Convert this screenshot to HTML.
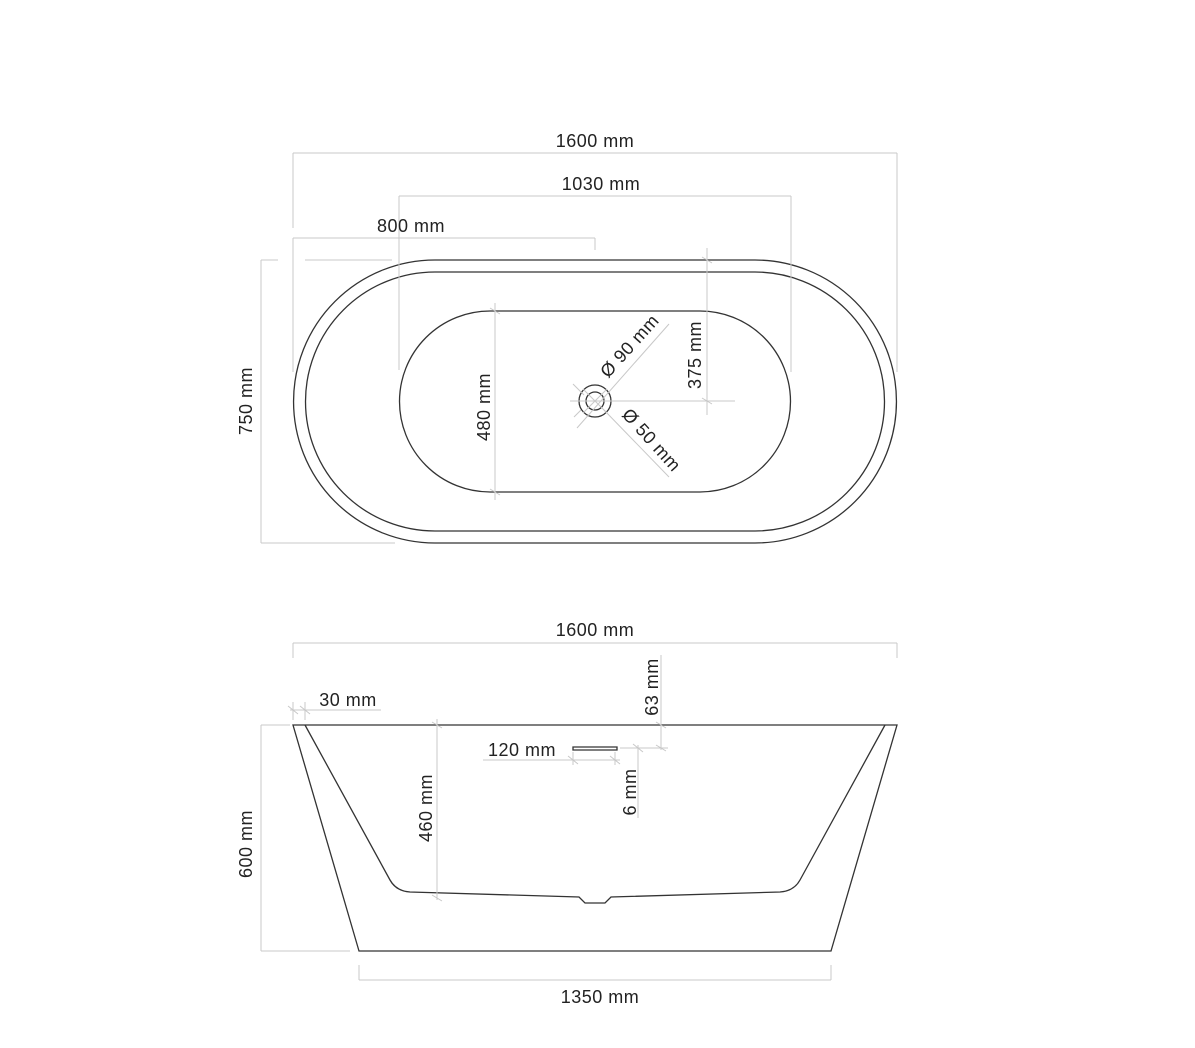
<!DOCTYPE html>
<html><head><meta charset="utf-8"><style>
html,body{margin:0;padding:0;background:#fff;}
svg{display:block;}
text{font-family:"Liberation Sans",sans-serif;font-size:18px;letter-spacing:0.5px;fill:#222;}
.d{stroke:#c8c8c8;stroke-width:1;fill:none;}
.o{stroke:#333;stroke-width:1.3;fill:none;}
</style></head><body>
<svg width="1195" height="1048" viewBox="0 0 1195 1048" xmlns="http://www.w3.org/2000/svg">
<path class="o" d="M435,260 H755 A141.5,141.5 0 0 1 755,543 H435 A141.5,141.5 0 0 1 435,260 Z"/>
<path class="o" d="M435,272 H755 A129.5,129.5 0 0 1 755,531 H435 A129.5,129.5 0 0 1 435,272 Z"/>
<path class="o" d="M490,311 H700 A90.5,90.5 0 0 1 700,492 H490 A90.5,90.5 0 0 1 490,311 Z"/>
<circle class="o" cx="595" cy="401" r="16"/>
<circle class="o" cx="595" cy="401" r="9"/>
<g class="d">
<path d="M293,153 H897 M293,153 V228 M897,153 V372"/>
<path d="M399,196 H791 M399,196 V370 M791,196 V372"/>
<path d="M293,238 H595 M293,238 V372 M595,238 V250"/>
<path d="M261,260 V543 M261,260 H278 M305,260 H392 M261,543 H395"/>
<path d="M495,303 V500 M490,308 L500,314 M490,489 L500,495"/>
<path d="M707,248 V415 M570,401 H735 M702,257 L712,263 M702,398 L712,404"/>
<path d="M583,389 L607,413 M583,413 L607,389"/>
<path d="M577,428 L669,324 M604,410 L669,477 M573,384 L584,395 M574,417 L581,410"/>
</g>
<text x="595" y="147" text-anchor="middle">1600 mm</text>
<text x="601" y="190" text-anchor="middle">1030 mm</text>
<text x="411" y="232" text-anchor="middle">800 mm</text>
<text transform="translate(252,401) rotate(-90)" text-anchor="middle">750 mm</text>
<text transform="translate(490,407) rotate(-90)" text-anchor="middle">480 mm</text>
<text transform="translate(701,355) rotate(-90)" text-anchor="middle">375 mm</text>
<text transform="translate(634,350) rotate(-48)" text-anchor="middle">Ø 90 mm</text>
<text transform="translate(647,444) rotate(48)" text-anchor="middle">Ø 50 mm</text>
<path class="o" d="M293,725 H897 L831,951 H359 Z"/>
<path class="o" d="M305,725 L390,880 Q396,891 410,892 L579,897 L585,903 H605 L611,897 L780,892 Q794,891 800,880 L885,725"/>
<path class="o" d="M573,747 H617 V750 H573 Z"/>
<g class="d">
<path d="M293,643 H897 M293,643 V658 M897,643 V658"/>
<path d="M261,725 V951 M261,725 H290 M261,951 H350"/>
<path d="M359,980 H831 M359,980 V965 M831,980 V965"/>
<path d="M437,719 V900 M432,722 L442,728 M432,895 L442,901"/>
<path d="M661,655 V750 M620,748 H668 M656,722 L666,728 M656,745 L666,751"/>
<path d="M483,760 H620 M573,752 V765 M615,752 V765 M568,756 L578,764 M610,756 L620,764"/>
<path d="M638,745 V818 M633,744 L643,752"/>
<path d="M290,710 H381 M293,702 V720 M305,702 V720 M288,706 L298,714 M300,706 L310,714"/>
</g>
<text x="595" y="636" text-anchor="middle">1600 mm</text>
<text x="348" y="706" text-anchor="middle">30 mm</text>
<text transform="translate(658,687) rotate(-90)" text-anchor="middle">63 mm</text>
<text x="522" y="756" text-anchor="middle">120 mm</text>
<text transform="translate(636,792) rotate(-90)" text-anchor="middle">6 mm</text>
<text transform="translate(432,808) rotate(-90)" text-anchor="middle">460 mm</text>
<text transform="translate(252,844) rotate(-90)" text-anchor="middle">600 mm</text>
<text x="600" y="1003" text-anchor="middle">1350 mm</text>
</svg>
</body></html>
